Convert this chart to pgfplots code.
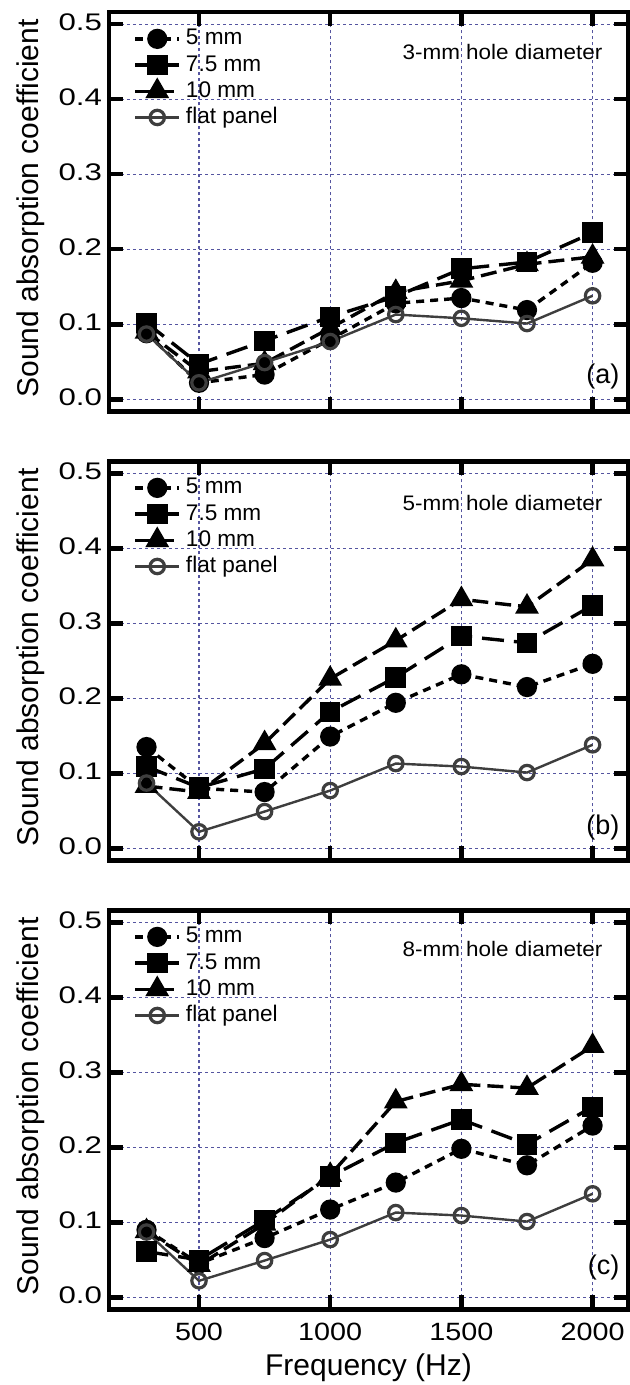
\documentclass[border=0pt]{standalone}
\usepackage{pgfplots}
\pgfplotsset{compat=1.18}
\usepackage{pgfplotstable}
\usepackage{fontspec}
\setmainfont{Liberation Sans}
\definecolor{gridc}{RGB}{85,85,160}
\definecolor{flatc}{RGB}{62,62,62}

\pgfplotstableread{
f c5 s75 t10 flat
300 0.088 0.102 0.090 0.087
500 0.022 0.047 0.037 0.022
750 0.033 0.078 0.048 0.049
1000 0.080 0.110 0.095 0.077
1250 0.128 0.137 0.143 0.113
1500 0.135 0.174 0.158 0.108
1750 0.119 0.183 0.180 0.101
2000 0.182 0.222 0.190 0.138
}\dataA
\pgfplotstableread{
f c5 s75 t10 flat
300 0.135 0.109 0.083 0.087
500 0.080 0.081 0.075 0.022
750 0.075 0.106 0.140 0.049
1000 0.149 0.182 0.226 0.077
1250 0.194 0.228 0.277 0.113
1500 0.232 0.283 0.332 0.109
1750 0.215 0.274 0.322 0.101
2000 0.246 0.324 0.385 0.138
}\dataB
\pgfplotstableread{
f c5 s75 t10 flat
300 0.090 0.061 0.088 0.087
500 0.045 0.050 0.043 0.022
750 0.079 0.103 0.098 0.049
1000 0.117 0.161 0.163 0.077
1250 0.153 0.206 0.261 0.113
1500 0.198 0.237 0.284 0.109
1750 0.176 0.204 0.279 0.101
2000 0.229 0.254 0.335 0.138
}\dataC

\pgfplotsset{
  panel/.style={
    scale only axis, width=259.5pt, height=199.5pt,
    xmin=157, xmax=2135, ymin=-0.016, ymax=0.516,
    xtick={500,1000,1500,2000}, ytick={0,0.1,0.2,0.3,0.4,0.5},
    grid=major,
    major grid style={gridc, line width=0.6pt, dash pattern=on 1.6pt off 1.4pt},
    axis line style={line width=2.2pt},
    tick align=inside, major tick length=7pt,
    tick style={black, line width=2.2pt},
    /pgf/number format/assume math mode=true,
    yticklabel={\scalebox{1.3}[1]{\pgfmathprintnumber[fixed,fixed zerofill,precision=1,assume math mode=true]{\tick}}},
    yticklabel style={font=\fontsize{12}{14}\selectfont, yshift=1pt},
    xticklabel style={font=\fontsize{12.5}{14}\selectfont, yshift=-3.5pt},
    ylabel={Sound absorption coefficient},
    ylabel style={font=\fontsize{15}{17}\selectfont, at={(axis description cs:-0.150,0.508)}, anchor=center},
    legend style={draw=none, fill=none, at={(axis description cs:0.035,0.972)}, anchor=north west,
      font=\fontsize{11.3}{13}\selectfont, row sep=2.1pt,
      nodes={inner xsep=2.5pt, inner ysep=0pt, text height=8.5pt, text depth=2.5pt}},
    legend cell align=left,
    legend image code/.code={\draw[mark repeat=2,mark phase=2] plot coordinates {(0pt,0pt) (11pt,0pt) (22pt,0pt)};},
  },
  s5/.style={black, line width=1.7pt, dash pattern=on 4pt off 3pt, mark=*, mark size=4.2pt, mark options={solid, fill=black}},
  s75/.style={black, line width=1.7pt, dash pattern=on 11pt off 5pt, mark=square*, mark size=4.3pt, mark options={solid, fill=black}},
  s10/.style={black, line width=1.7pt, dash pattern=on 8pt off 3.5pt, mark=triangle*, mark size=5.2pt, mark options={solid, fill=black}},
  sflat/.style={flatc, line width=1.2pt, solid, mark=o, mark size=3.6pt, mark options={solid, line width=1.6pt, fill=white, draw=flatc}},
}
\newcommand{\xticklab}[1]{\scalebox{1.15}[1]{#1}}

\begin{document}
\begin{tikzpicture}
\useasboundingbox (0,0) rectangle (314.5pt,-692.5pt);

\begin{axis}[panel, at={(54.5pt,-6.15pt)}, anchor=north west, xticklabels={}]
\addplot[s5] table[x=f,y=c5] {\dataA};
\addplot[s75] table[x=f,y=s75] {\dataA};
\addplot[s10] table[x=f,y=t10] {\dataA};
\addplot[sflat] table[x=f,y=flat] {\dataA};
\legend{5 mm, 7.5 mm, 10 mm, flat panel}
\node[anchor=east, inner sep=0pt, font=\fontsize{10.5}{12}\selectfont] at (axis cs:2039,0.463) {\scalebox{1.07}[1]{3-mm hole diameter}};
\node[anchor=east, inner sep=0pt, font=\fontsize{13.5}{15}\selectfont] at (axis cs:2104,0.031) {(a)};
\end{axis}

\begin{axis}[panel, at={(54.5pt,-230.65pt)}, anchor=north west, xticklabels={}]
\addplot[s5] table[x=f,y=c5] {\dataB};
\addplot[s75] table[x=f,y=s75] {\dataB};
\addplot[s10] table[x=f,y=t10] {\dataB};
\addplot[sflat] table[x=f,y=flat] {\dataB};
\legend{5 mm, 7.5 mm, 10 mm, flat panel}
\node[anchor=east, inner sep=0pt, font=\fontsize{10.5}{12}\selectfont] at (axis cs:2039,0.461) {\scalebox{1.07}[1]{5-mm hole diameter}};
\node[anchor=east, inner sep=0pt, font=\fontsize{13.5}{15}\selectfont] at (axis cs:2104,0.028) {(b)};
\end{axis}

\begin{axis}[panel, at={(54.5pt,-455.15pt)}, anchor=north west,
  xticklabels={\xticklab{500},\xticklab{1000},\xticklab{1500},\xticklab{2000}},
  xlabel={Frequency (Hz)},
  xlabel style={font=\fontsize{15}{17}\selectfont, at={(axis description cs:0.5,0)}, anchor=base, yshift=-33.3pt}]
\addplot[s5] table[x=f,y=c5] {\dataC};
\addplot[s75] table[x=f,y=s75] {\dataC};
\addplot[s10] table[x=f,y=t10] {\dataC};
\addplot[sflat] table[x=f,y=flat] {\dataC};
\legend{5 mm, 7.5 mm, 10 mm, flat panel}
\node[anchor=east, inner sep=0pt, font=\fontsize{10.5}{12}\selectfont] at (axis cs:2039,0.4645) {\scalebox{1.07}[1]{8-mm hole diameter}};
\node[anchor=east, inner sep=0pt, font=\fontsize{13.5}{15}\selectfont] at (axis cs:2104,0.040) {(c)};
\end{axis}
\end{tikzpicture}
\end{document}
